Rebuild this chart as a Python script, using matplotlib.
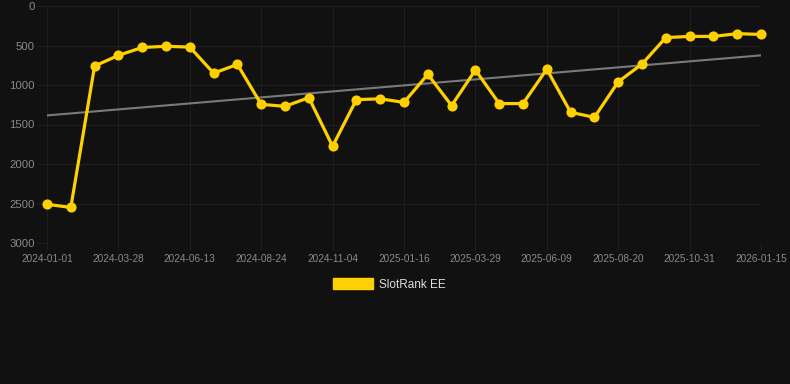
import matplotlib
matplotlib.use("Agg")
import matplotlib.pyplot as plt
import numpy as np

dates = ["2024-01-01", "2024-01-30", "2024-02-28", "2024-03-28", "2024-04-23", "2024-05-19",
         "2024-06-13", "2024-07-07", "2024-07-31", "2024-08-24", "2024-09-17", "2024-10-11",
         "2024-11-04", "2024-11-28", "2024-12-23", "2025-01-16", "2025-02-09", "2025-03-05",
         "2025-03-29", "2025-04-22", "2025-05-16", "2025-06-09", "2025-07-03", "2025-07-27",
         "2025-08-20", "2025-09-13", "2025-10-07", "2025-10-31", "2025-11-25", "2025-12-20",
         "2026-01-15"]
rank = [2510, 2550, 760, 625, 525, 510, 520, 850, 740, 1245, 1270, 1160, 1775, 1185, 1175,
        1220, 865, 1260, 810, 1235, 1235, 800, 1345, 1410, 960, 735, 400, 385, 385, 350, 360]
series_name = "SlotRank EE"
y_ticks = [0, 500, 1000, 1500, 2000, 2500, 3000]

plt.rcParams["font.family"] = ["Liberation Sans", "DejaVu Sans"]

BG = "#111111"
GRID = "#1f1f1f"
fig = plt.figure(figsize=(7.9, 3.84), dpi=100, facecolor=BG)
ax = fig.add_axes([47/790, 1-243/384, (761-47)/790, (243-6)/384], facecolor=BG)

x = np.arange(len(rank))
coef = np.polyfit(x, rank, 1)
ax.plot(x, np.polyval(coef, x), color="#7a7a7a", lw=1.5, zorder=2)
ax.plot(x, rank, color="#FFD000", lw=2.3, marker="o", markersize=7.3,
        markeredgewidth=0, clip_on=False, zorder=3, label=series_name)

ax.set_xlim(0, len(rank)-1)
ax.set_ylim(3000, 0)
ax.set_yticks(y_ticks)
ax.set_yticklabels([str(v) for v in y_ticks])
tick_idx = x[::3]
ax.set_xticks(tick_idx)
ax.set_xticklabels([dates[i] for i in tick_idx])

for s in ax.spines.values():
    s.set_visible(False)
ax.grid(True, color=GRID, lw=0.8)
ax.tick_params(axis="y", colors=GRID, length=7.2, width=0.8, labelcolor="#8a8a8a",
               labelsize=8.2, pad=1.5)
ax.tick_params(axis="x", colors=GRID, length=5, width=0.8, labelcolor="#8a8a8a",
               labelsize=7.2, pad=3)

leg = fig.legend(handles=[plt.Rectangle((0, 0), 1, 1, color="#FFD000")], labels=[series_name],
                 loc="center", bbox_to_anchor=(0.5 - 6/790, 1-284.5/384), frameon=False,
                 handlelength=3.4, handleheight=0.95, fontsize=8.5, labelcolor="#dddddd",
                 handletextpad=0.5)

fig.savefig("out.png", dpi=100, facecolor=BG)
